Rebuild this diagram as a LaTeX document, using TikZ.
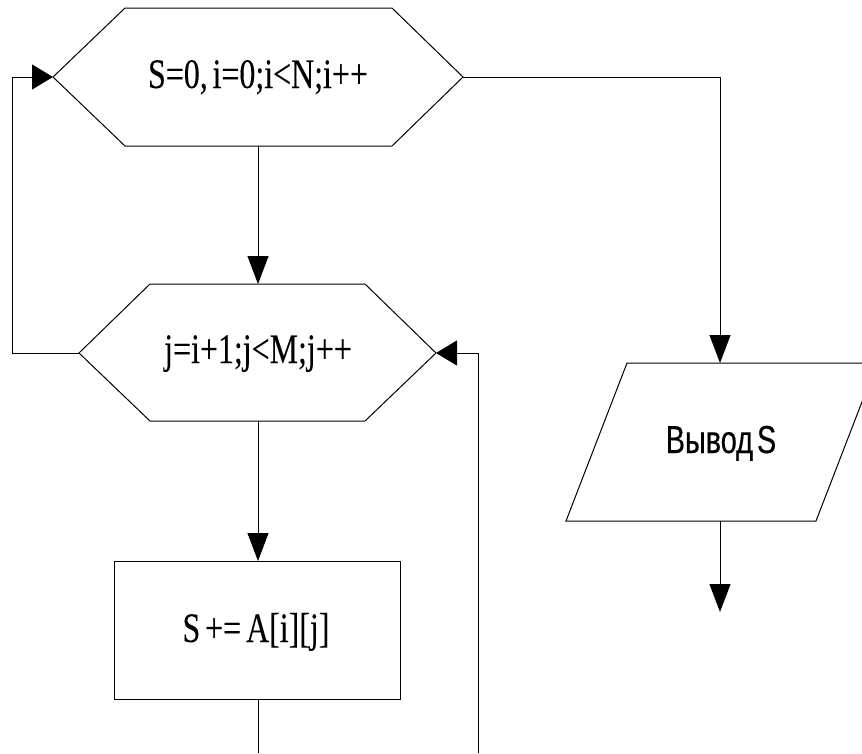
\documentclass[tikz,border=0pt]{standalone}
\usepackage{fontspec}
\setmainfont{Liberation Serif}
\newfontfamily\narrowserif[FakeStretch=0.76,FakeBold=0.15,WordSpace=0.6]{Liberation Serif}
\newfontfamily\narrowsans[FakeStretch=0.74,FakeBold=0.3,WordSpace=0.5]{Liberation Sans}
\usetikzlibrary{arrows.meta}
\tikzset{
  blk/.style={draw=black, line width=1pt},
  conn/.style={draw=black, line width=1pt},
  varrow/.style={conn, -{Triangle[length=28pt,width=21pt]}},
  harrow/.style={conn, -{Triangle[length=21pt,width=25pt]}},
  serif/.style={anchor=base, inner sep=0pt, font=\narrowserif\fontsize{42}{48}\selectfont},
  sans/.style={anchor=base, inner sep=0pt, font=\narrowsans\fontsize{39}{45}\selectfont},
}
\begin{document}
\begin{tikzpicture}[x=1pt,y=-1pt]
\useasboundingbox (0,0) rectangle (862,753);
\clip (0,0) rectangle (862,753);
% hexagon 1
\coordinate (h1l) at (53,77);
\coordinate (h1r) at (463,77);
\coordinate (h1b) at (258,146);
\draw[blk] (125,8) -- (392,8) -- (h1r) -- (392,146) -- (125,146) -- (h1l) -- cycle;
\node[serif] (t1) at (258,88) {S=0, i=0;i<N;i++};
% hexagon 2
\coordinate (h2l) at (79,353);
\coordinate (h2r) at (436,353);
\coordinate (h2t) at (258,284);
\coordinate (h2b) at (258,421);
\draw[blk] (150,284) -- (365,284) -- (h2r) -- (365,421) -- (150,421) -- (h2l) -- cycle;
\node[serif] (t2) at (258,363) {j=i+1;j<M;j++};
% rectangle
\coordinate (rt) at (258,561);
\coordinate (rb) at (258,699);
\draw[blk] (114,561) rectangle (400,699);
\node[serif] (t3) at (256,642) {S +=\hspace{0.12em}A[i][j]};
% parallelogram
\coordinate (pt) at (720,363);
\coordinate (pb) at (720,521);
\draw[blk] (627,363) -- (877,363) -- (816,521) -- (566,521) -- cycle;
\node[sans] (t4) at (721,453) {Вывод S};
% connectors
\coordinate (lc1) at (12,353);
\coordinate (lc2) at (12,77);
\coordinate (rc1) at (478,753);
\coordinate (rc2) at (478,353);
\coordinate (tc1) at (720,77);
\coordinate (rend) at (258,753);
\coordinate (pend) at (720,612);
\draw[varrow] (h1b) -- (h2t);
\draw[harrow] (h2l) -- (lc1) -- (lc2) -- (h1l);
\draw[varrow] (h2b) -- (rt);
\draw[conn] (rb) -- (rend);
\draw[harrow] (rc1) -- (rc2) -- (h2r);
\draw[varrow] (h1r) -- (tc1) -- (pt);
\draw[varrow] (pb) -- (pend);
\end{tikzpicture}
\end{document}
